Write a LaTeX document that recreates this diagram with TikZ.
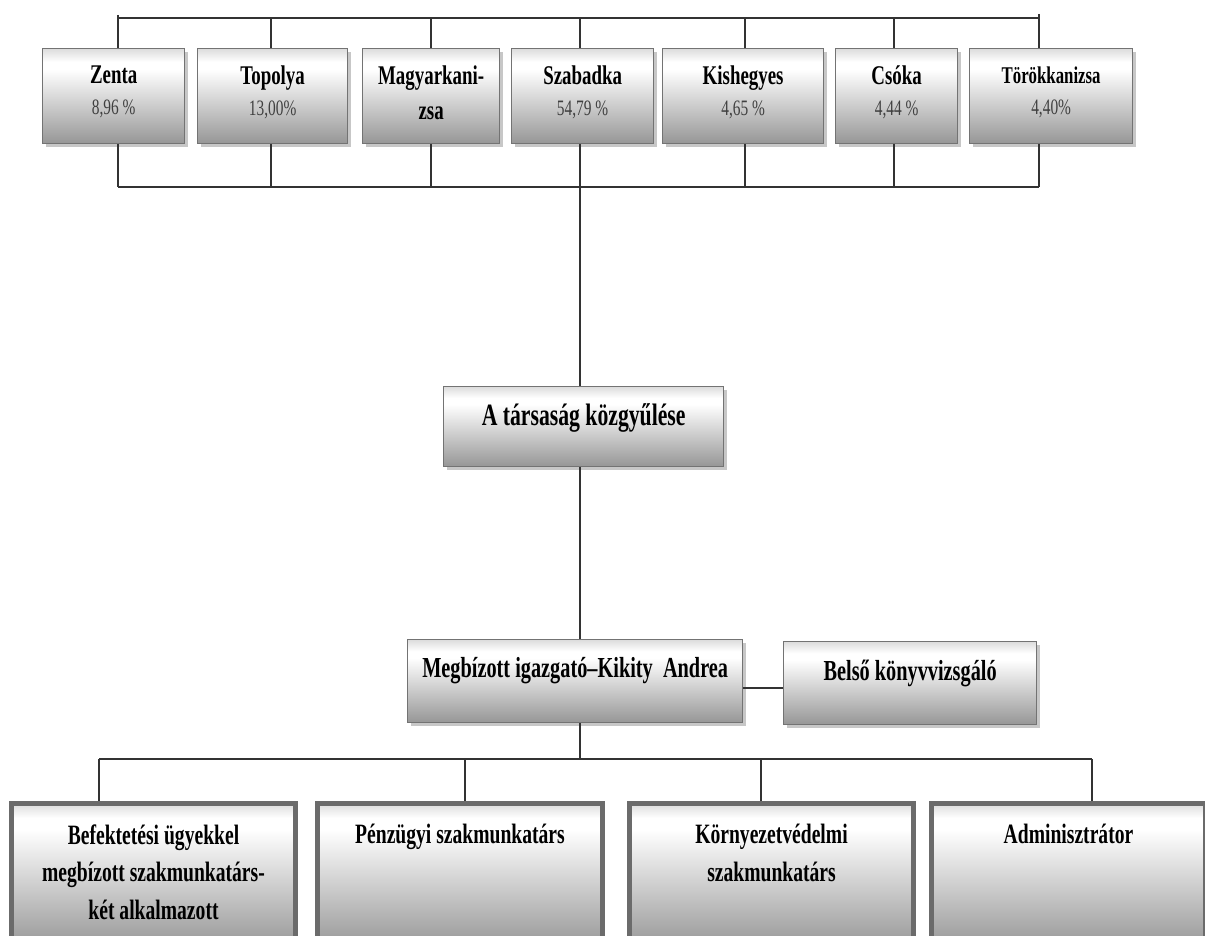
\documentclass[tikz,border=0pt]{standalone}
\usepackage{fontspec}
\setmainfont{Liberation Serif}[FakeStretch=0.7]
\usetikzlibrary{shadows}
\definecolor{shlow}{HTML}{969696}
\definecolor{shtop}{HTML}{DCDCDC}
\definecolor{linec}{HTML}{333333}
\pgfdeclareverticalshading{boxshade}{100bp}{color(0bp)=(shlow); color(25bp)=(shlow); color(64bp)=(white); color(68bp)=(white); color(75bp)=(shtop); color(100bp)=(shtop)}
\pgfdeclareverticalshading{lowshade}{100bp}{color(0bp)=(shlow); color(25bp)=(shlow); color(66bp)=(white); color(70bp)=(white); color(75bp)=(shtop); color(100bp)=(shtop)}
\newcommand{\cbox}[4]{\parbox[c][#2pt][t]{#1pt}{\centering\vspace*{#3pt}#4\par}}
\newcommand{\nmf}{\fontsize{27}{31}\selectfont\bfseries}
\newcommand{\pcf}{\fontsize{22}{31}\selectfont\mdseries\color{black!75}}
\newcommand{\lwf}{\fontsize{28}{37.5}\selectfont\bfseries}
\tikzset{
  box/.style={draw=black!55, line width=1.3pt, shading=boxshade, inner sep=0pt, anchor=north west,
    drop shadow={shadow xshift=3pt, shadow yshift=-3pt, fill=black, opacity=0.22}},
  lowbox/.style={draw=black!58, line width=5pt, shading=lowshade, inner sep=0pt, anchor=north west},
  conn/.style={draw=linec, line width=1.4pt},
}
\begin{document}
\begin{tikzpicture}[x=1pt,y=-1pt]
\useasboundingbox (0,0) rectangle (1205,936);
\clip (0,0) rectangle (1205,936);
% top row
\node[box] (zenta) at (42,48) {\cbox{142}{95}{17}{\nmf Zenta\\{\pcf 8,96 \%}}};
\node[box] (topolya) at (197,48) {\cbox{150}{95}{17}{\nmf Topolya\\{\pcf 13,00\%}}};
\node[box] (magyar) at (362,48) {\cbox{137}{95}{17}{\fontsize{27}{35}\selectfont\bfseries Magyarkani-\\zsa}};
\node[box] (szabadka) at (511,48) {\cbox{142}{95}{17}{\nmf Szabadka\\{\pcf 54,79 \%}}};
\node[box] (kishegyes) at (662,48) {\cbox{161}{95}{17}{\nmf Kishegyes\\{\pcf 4,65 \%}}};
\node[box] (csoka) at (835,48) {\cbox{122}{95}{17}{\nmf Csóka\\{\pcf 4,44 \%}}};
\node[box] (torok) at (969,48) {\cbox{163}{95}{18}{\fontsize{24}{31}\selectfont\bfseries Törökkanizsa\\{\pcf 4,40\%}}};
% middle
\node[box] (kozgy) at (443,386) {\cbox{280}{80}{17}{\fontsize{31}{36}\selectfont\bfseries A társaság közgyűlése}};
\node[box] (igaz) at (407,639) {\cbox{335}{83}{18}{\fontsize{29}{36}\selectfont\bfseries Megbízott igazgató–Kikity\ \ Andrea}};
\node[box] (belso) at (783,641) {\cbox{253}{83}{18}{\fontsize{29}{36}\selectfont\bfseries Belső könyvvizsgáló}};
% bottom row
\node[lowbox] (b1) at (9,801) {\cbox{284}{145}{21}{\lwf Befektetési ügyekkel\\megbízott szakmunkatárs-\\két alkalmazott}};
\node[lowbox] (b2) at (315,801) {\cbox{285}{145}{21}{\lwf Pénzügyi szakmunkatárs}};
\node[lowbox] (b3) at (627,801) {\cbox{284}{145}{21}{\lwf Környezetvédelmi\\szakmunkatárs}};
\node[lowbox] (b4) at (929,801) {\cbox{274}{145}{21}{\lwf Adminisztrátor}};
% bus coordinates
\coordinate (t1) at (118,18); \coordinate (t2) at (271,18); \coordinate (t3) at (431,18);
\coordinate (t4) at (580,18); \coordinate (t5) at (745,18); \coordinate (t6) at (894,18);
\coordinate (t7) at (1039,18);
\coordinate (u1) at (118,187); \coordinate (u2) at (271,187); \coordinate (u3) at (431,187);
\coordinate (u4) at (580,187); \coordinate (u5) at (745,187); \coordinate (u6) at (894,187);
\coordinate (u7) at (1039,187);
\coordinate (l0) at (580,759);
\coordinate (l1) at (99,759); \coordinate (l2) at (465,759); \coordinate (l3) at (761,759);
\coordinate (l4) at (1092,759);
% top bus
\draw[conn] (t1) -- (t7);
\draw[conn] ([yshift=3pt]t1) -- (t1 |- zenta.north);
\draw[conn] (t2) -- (t2 |- topolya.north);
\draw[conn] (t3) -- (t3 |- magyar.north);
\draw[conn] (t4) -- (t4 |- szabadka.north);
\draw[conn] (t5) -- (t5 |- kishegyes.north);
\draw[conn] (t6) -- (t6 |- csoka.north);
\draw[conn] ([yshift=4pt]t7) -- (t7 |- torok.north);
% bottom bus of top row
\draw[conn] (u1) -- (u7);
\draw[conn] (zenta.south -| u1) -- (u1);
\draw[conn] (topolya.south -| u2) -- (u2);
\draw[conn] (magyar.south -| u3) -- (u3);
\draw[conn] (szabadka.south -| u4) -- (u4);
\draw[conn] (kishegyes.south -| u5) -- (u5);
\draw[conn] (csoka.south -| u6) -- (u6);
\draw[conn] (torok.south -| u7) -- (u7);
% trunk
\draw[conn] (u4) -- (u4 |- kozgy.north);
\draw[conn] (kozgy.south -| u4) -- (u4 |- igaz.north);
\draw[conn] ([yshift=-7pt]igaz.east) -- ([yshift=-7pt]igaz.east -| belso.west);
\draw[conn] (igaz.south -| l0) -- (l0);
% lower bus
\draw[conn] (l1) -- (l4);
\draw[conn] (l1) -- (l1 |- b1.north);
\draw[conn] (l2) -- (l2 |- b2.north);
\draw[conn] (l3) -- (l3 |- b3.north);
\draw[conn] (l4) -- (l4 |- b4.north);
\end{tikzpicture}
\end{document}
